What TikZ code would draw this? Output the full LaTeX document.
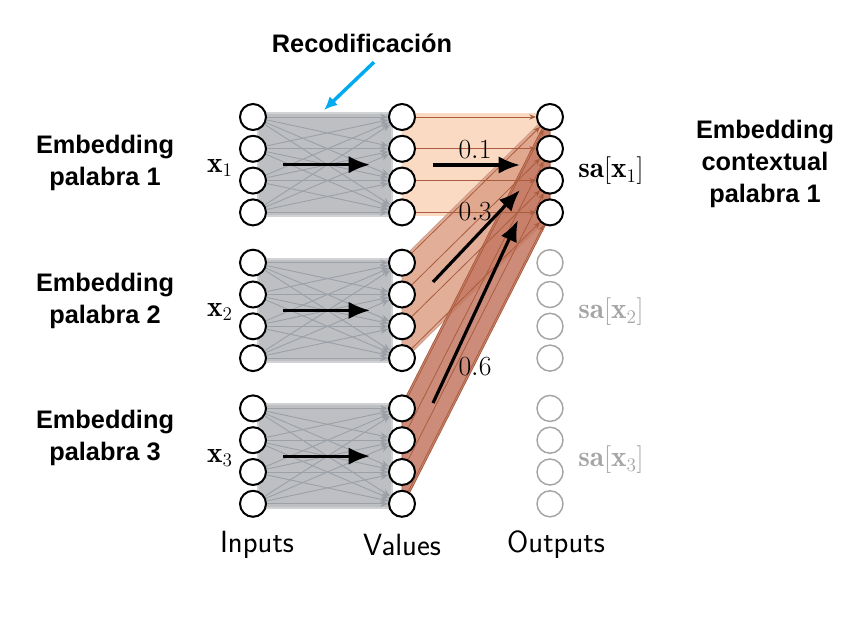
\documentclass[tikz,border=0pt]{standalone}
\usepackage{fontspec}
\usepackage{xcolor}
\usepackage{amsmath}
\usepackage{tikz}
\usetikzlibrary{arrows.meta}
\usetikzlibrary{positioning}
\usetikzlibrary{calc}
\newfontfamily\headfont{Liberation Sans}
\definecolor{netgray}{RGB}{138,145,152}
\definecolor{boxgray}{RGB}{190,191,194}
\definecolor{ghostgray}{RGB}{165,165,165}
\definecolor{wone}{RGB}{250,214,188}
\definecolor{wtwo}{RGB}{221,160,134}
\definecolor{wthree}{RGB}{196,120,98}
\definecolor{wline}{RGB}{170,92,62}
\definecolor{pointblue}{RGB}{0,170,240}

\begin{document}
\begin{tikzpicture}[x=0.75pt, y=-0.75pt,
    unit/.style={circle,draw=black,fill=white,line width=1.5pt,
        minimum size=19.5pt,inner sep=0pt},
    ghost/.style={unit,draw=ghostgray,line width=1.1pt},
    head/.style={font=\headfont\bfseries\fontsize{19}{24}\selectfont,
        align=center},
    colname/.style={font=\sffamily\fontsize{23}{27}\selectfont},
    mathlab/.style={font=\fontsize{22}{26}\selectfont},
    wlab/.style={font=\fontsize{20}{24}\selectfont},
    net/.style={netgray!85,line width=0.7pt,-{Stealth[length=6pt,width=5pt]}},
    wire/.style={wline,line width=0.6pt,-{Stealth[length=5pt,width=4pt]}},
    flow/.style={black,line width=2.4pt,-{Latex[length=16pt,width=13pt]}},
    pointer/.style={pointblue,line width=2.6pt,-{Latex[length=10pt,width=9pt]}}]

\useasboundingbox (0,0) rectangle (867,621);

\def\XIN{253}
\def\XVAL{402}
\def\XOUT{550}
\def\YTOP{117}
\def\YSEP{145.7}
\def\RSEP{31.8}

\foreach \g [evaluate=\g as \top using \YTOP+\YSEP*(\g-1),
             evaluate=\g as \bot using \YTOP+\YSEP*(\g-1)+3*\RSEP] in {1,2,3} {
    \filldraw[fill=boxgray,draw=boxgray!70,line width=1.5pt]
        (\XIN+5,\top-4) rectangle (\XVAL-10,\bot+4);
}

\fill[wone,fill opacity=0.9] (\XVAL,113) rectangle (\XOUT,216);
\filldraw[fill=wtwo,draw=wline!60,fill opacity=0.85,line width=0.6pt]
    (\XVAL,258.7) -- (\XOUT,113) -- (\XOUT,216) -- (\XVAL,362) -- cycle;
\filldraw[fill=wthree,draw=wline,fill opacity=0.85,line width=0.6pt]
    (\XVAL,404.4) -- (\XOUT,113) -- (\XOUT,216) -- (\XVAL,507.8) -- cycle;

\foreach \g/\sty [evaluate=\g as \top using \YTOP+\YSEP*(\g-1)]
        in {1/unit,2/ghost,3/ghost} {
    \foreach \i in {1,...,4} {
        \node[unit] (in-\g-\i) at (\XIN,\top+\RSEP*\i-\RSEP) {};
        \node[unit] (val-\g-\i) at (\XVAL,\top+\RSEP*\i-\RSEP) {};
        \node[\sty] (out-\g-\i) at (\XOUT,\top+\RSEP*\i-\RSEP) {};
    }
}

\foreach \g in {1,2,3} {
    \foreach \i in {1,...,4} {
        \foreach \j in {1,...,4} {
            \draw[net] (in-\g-\i) -- (val-\g-\j);
        }
        \draw[wire] (val-\g-\i) -- (out-1-\i);
    }
    \draw[flow] ($(in-\g-2)!0.5!(in-\g-3)+(30,0)$)
        -- ($(val-\g-2)!0.5!(val-\g-3)+(-32,0)$);
}

\coordinate (sum-1) at (520,165);
\coordinate (sum-2) at (520,190);
\coordinate (sum-3) at (518,220);
\draw[flow] (433,165) -- (sum-1);
\draw[flow] (433,282) -- (sum-2);
\draw[flow] (433,403) -- (sum-3);

\node[wlab] (w-1) at (475,150) {$0.1$};
\node[wlab] (w-2) at (475,212) {$0.3$};
\node[wlab] (w-3) at (475,367) {$0.6$};

\node[mathlab] (lab-x-1) at (220,168) {$\mathbf{x}_1$};
\node[mathlab] (lab-x-2) at (220,312) {$\mathbf{x}_2$};
\node[mathlab] (lab-x-3) at (220,458) {$\mathbf{x}_3$};
\node[mathlab] (lab-sa-1) at (611,171) {$\mathbf{sa}[\mathbf{x}_1]$};
\node[mathlab,ghostgray] (lab-sa-2) at (611,312) {$\mathbf{sa}[\mathbf{x}_2]$};
\node[mathlab,ghostgray] (lab-sa-3) at (611,460) {$\mathbf{sa}[\mathbf{x}_3]$};

\node[head] (emb-1) at (105,163) {Embedding\\palabra 1};
\node[head] (emb-2) at (105,301) {Embedding\\palabra 2};
\node[head] (emb-3) at (105,438) {Embedding\\palabra 3};
\node[head] (ctx) at (765,164) {Embedding\\contextual\\palabra 1};

\node[head] (reco) at (362,43) {Recodificación};
\coordinate (reco-tip) at (324,110);
\draw[pointer] ($(reco.south)+(12,5)$) -- (reco-tip);

\node[colname] (lab-in) at (257,545) {Inputs};
\node[colname] (lab-val) at (402,545) {Values};
\node[colname] (lab-out) at (556,545) {Outputs};

\end{tikzpicture}
\end{document}
